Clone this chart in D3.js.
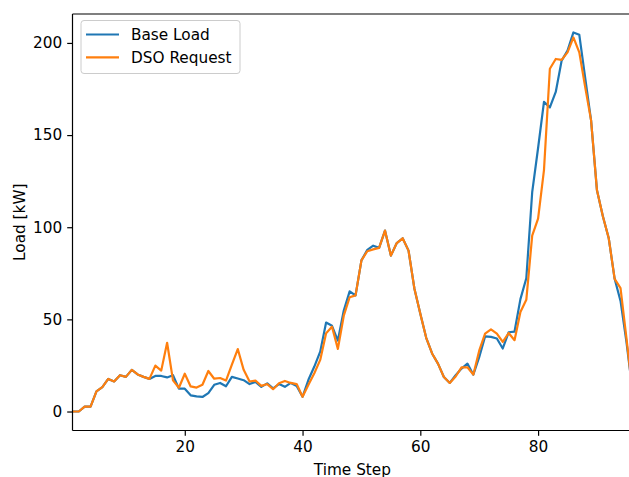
<!DOCTYPE html>
<html><head><meta charset="utf-8">
<script src="https://cdn.jsdelivr.net/npm/d3@7"></script>
<style>body{margin:0;background:#fff}svg{display:block}text{font-family:"DejaVu Sans",sans-serif}</style>
</head><body>
<svg id="c" width="629" height="477"></svg>
<script>
const timeSteps = d3.range(1, 97);
const baseLoad = [0,0,2.7,2.7,10.9,13.2,17.7,16.3,19.7,18.8,22.6,20.1,18.8,17.7,19.3,19.3,18.5,19.7,12.4,12.4,
  8.8,8.2,7.9,10,14.5,15.5,13.7,18.8,17.9,17,14.9,16.1,13.4,15.3,12.6,14.9,13.4,15.5,13.9,8,
  17.2,24.4,32.5,48.3,46.5,38.5,54.8,65.2,63,82,87.7,90,88.8,98.2,84.6,91.4,94,87.3,66.6,53,
  40,31.5,26,18.7,15.5,19.7,23.3,26,20,29.5,40.8,40.5,39.6,34.2,43,43.4,61,72.3,119,143,
  168,165,173.4,190.4,195.8,205.7,204.4,181,158,120,106,94,72,60,38,12];
const dsoRequest = [0,0,2.7,2.7,10.9,13.2,17.7,16.3,19.7,18.8,22.6,20.1,18.8,17.7,24.9,22.2,37.3,16.9,12.9,20.5,
  13.6,13,14.5,22,17.8,18.2,16.8,25.5,33.9,22.6,16.3,16.8,13.9,14.9,12.1,15.3,16.6,15.5,14.9,8,
  14.5,20.8,28,42.5,46,34,52,62,63,82,87,88,88.8,98.2,84.6,91.4,94,87.3,66.6,53,
  40,31.5,26,18.7,15.5,19,24,24,20,33,42.3,44.6,42.3,37.8,42.6,38.7,54,60.6,95.4,104.7,
  131,186,191.3,190.8,194.9,203,194.9,176,158,120,106,94,72,67,40,12];
const xTicks = [20,40,60,80];
const yTicks = [0,50,100,150,200];
const seriesNames = ["Base Load","DSO Request"];
const colors = ["#1f77b4","#ff7f0e"];

const FS = 15.3;
const svg = d3.select("#c");
const L = 72.5, T = 14, B = 430.5, R = 632.3;
const x = d3.scaleLinear().domain([1, 96]).range([L + 0.4, R]);
const y = d3.scaleLinear().domain([-10.3, 215.7]).range([B, T]);

svg.append("defs").append("clipPath").attr("id","clip")
  .append("rect").attr("x",L).attr("y",T).attr("width",R-L).attr("height",B-T);

const line = d3.line().x((d,i)=>x(timeSteps[i])).y(d=>y(d));
const g = svg.append("g").attr("clip-path","url(#clip)");
[baseLoad, dsoRequest].forEach((s,k)=>{
  g.append("path").datum(s).attr("d",line).attr("fill","none")
   .attr("stroke",colors[k]).attr("stroke-width",2.2).attr("stroke-linejoin","round").attr("stroke-linecap","square");
});

// axes
const xa = svg.append("g").attr("transform",`translate(0,${B})`)
  .call(d3.axisBottom(x).tickValues(xTicks).tickSize(5.3).tickPadding(5).tickFormat(d3.format("d")));
const ya = svg.append("g").attr("transform",`translate(${L},0)`)
  .call(d3.axisLeft(y).tickValues(yTicks).tickSize(5.3).tickPadding(5).tickFormat(d3.format("d")));
[xa,ya].forEach(a=>{
  a.select(".domain").remove();
  a.selectAll(".tick line").attr("stroke","#000").attr("stroke-width",1.2);
  a.selectAll("text").attr("font-size",FS).attr("fill","#000").attr("font-family","DejaVu Sans");
});
// spines
const sp = svg.append("g").attr("stroke","#000").attr("stroke-width",1.2).attr("fill","none");
sp.append("line").attr("x1",L).attr("x2",L).attr("y1",T).attr("y2",B);
sp.append("line").attr("x1",L).attr("x2",R).attr("y1",B).attr("y2",B);
sp.append("line").attr("x1",L).attr("x2",R).attr("y1",T).attr("y2",T);
sp.append("line").attr("x1",R).attr("x2",R).attr("y1",T).attr("y2",B);

svg.append("text").attr("x",(L+R)/2).attr("y",474.5).attr("text-anchor","middle")
  .attr("font-size",FS).text("Time Step");
svg.append("text").attr("transform",`translate(24.5,${(T+B)/2}) rotate(-90)`).attr("text-anchor","middle")
  .attr("font-size",FS).text("Load [kW]");

// legend
const lg = svg.append("g");
lg.append("rect").attr("x",81).attr("y",20.5).attr("width",159).attr("height",53).attr("rx",3)
  .attr("fill","#fff").attr("fill-opacity",0.8).attr("stroke","#ccc").attr("stroke-width",1);
seriesNames.forEach((n,k)=>{
  const yy = 34.5 + k*22.8;
  lg.append("line").attr("x1",86).attr("x2",119).attr("y1",yy).attr("y2",yy)
    .attr("stroke",colors[k]).attr("stroke-width",2.2);
  lg.append("text").attr("x",131).attr("y",yy+5.5).attr("font-size",FS).text(n);
});
</script>
</body></html>
